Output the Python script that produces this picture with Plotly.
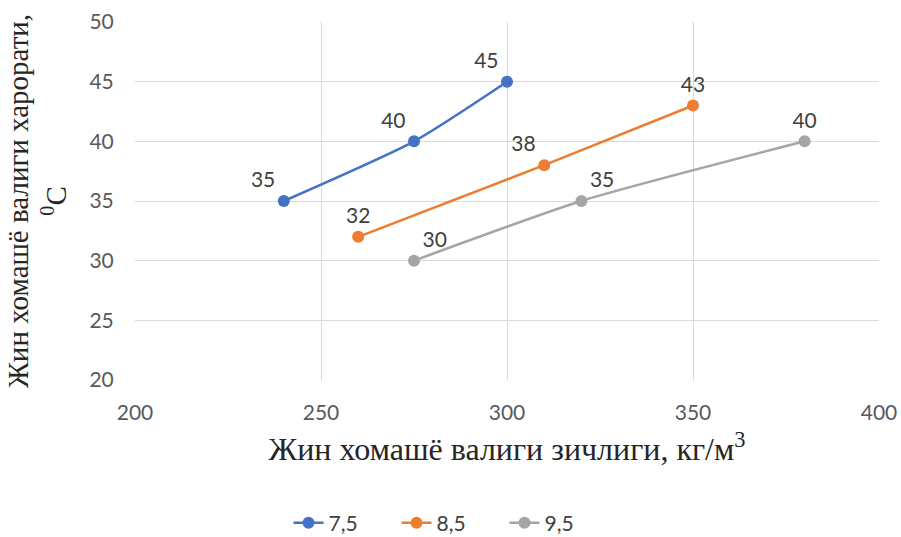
import plotly.graph_objects as go

series_names = ["7,5", "8,5", "9,5"]
x_blue = [240, 275, 300]
y_blue = [35, 40, 45]
x_orange = [260, 310, 350]
y_orange = [32, 38, 43]
x_gray = [275, 320, 380]
y_gray = [30, 35, 40]
colors = ["#4472C4", "#ED7D31", "#A5A5A5"]
label_pos = [
    ["top left", "top left", "top left"],
    ["top center", "top left", "top center"],
    ["top right", "top right", "top center"],
]

fig = go.Figure()
for name, xs, ys, c, tp in zip(series_names, [x_blue, x_orange, x_gray],
                               [y_blue, y_orange, y_gray], colors, label_pos):
    fig.add_trace(go.Scatter(
        x=xs, y=ys, name=name, mode="lines+markers+text",
        line=dict(color=c, width=2.5, shape="spline", smoothing=0.6),
        marker=dict(color=c, size=12),
        text=[str(v) for v in ys], textposition=tp,
        textfont=dict(family="Lato, Liberation Sans, sans-serif", size=21, color="#404040"),
    ))

fig.update_layout(
    width=901, height=537,
    margin=dict(l=135, r=22, t=22, b=157, autoexpand=False),
    paper_bgcolor="white", plot_bgcolor="white",
    font=dict(family="Lato, Liberation Sans, sans-serif", size=21, color="#595959"),
    xaxis=dict(range=[200, 400], dtick=50, showgrid=True, gridcolor="#D9D9D9", gridwidth=1,
               zeroline=False, showline=False, ticks="outside", ticklen=14,
               tickcolor="rgba(0,0,0,0)", automargin=False,
               title=dict(text="Жин хомашё валиги зичлиги, кг/м<sup>3</sup>",
                          font=dict(family="Liberation Serif, serif", size=32, color="#262626"),
                          standoff=14)),
    yaxis=dict(range=[20, 50], dtick=5, showgrid=True, gridcolor="#D9D9D9", gridwidth=1,
               zeroline=False, showline=False, ticks="outside", ticklen=16,
               tickcolor="rgba(0,0,0,0)", automargin=False,
               title=dict(text="Жин хомашё валиги харорати,<br><sup>0</sup>C",
                          font=dict(family="Liberation Serif, serif", size=29, color="#262626"),
                          standoff=14)),
    legend=dict(orientation="h", x=0.5, xanchor="center", xref="container",
                y=0.026, yanchor="middle", yref="container",
                entrywidth=63, entrywidthmode="pixels",
                font=dict(family="Lato, Liberation Sans, sans-serif", size=21, color="#404040")),
    showlegend=True,
)

fig.write_html("out.html")
